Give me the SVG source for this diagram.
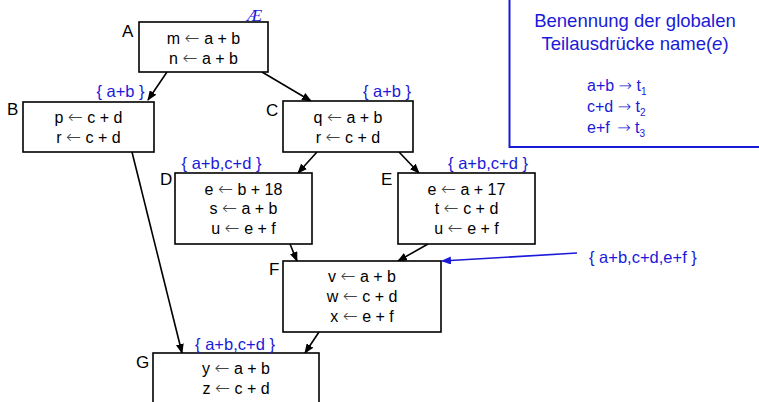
<svg xmlns="http://www.w3.org/2000/svg" width="759" height="402" viewBox="0 0 759 402">
<style>
.box{fill:#fff;stroke:#000;stroke-width:1.6}
.t{font-family:"Liberation Sans",Arial,sans-serif;font-size:16px;fill:#000;text-anchor:middle}
.ar{font-family:"DejaVu Sans",sans-serif;font-size:18px;font-weight:200;fill:#444}
.lbl{font-family:"Liberation Sans",Arial,sans-serif;font-size:17px;fill:#000}
.bl{font-family:"Liberation Sans",Arial,sans-serif;font-size:16.5px;fill:#1a1ad8}
.edge{stroke:#000;stroke-width:1.6;fill:none;marker-end:url(#ah)}
.bedge{stroke:#1a1ad8;stroke-width:1.6;fill:none;marker-end:url(#bh)}
</style>
<defs>
<marker id="ah" markerUnits="userSpaceOnUse" markerWidth="10" markerHeight="8" refX="9" refY="4" orient="auto"><path d="M0,0 L10,4 L0,8 z" fill="#000"/></marker>
<marker id="bh" markerUnits="userSpaceOnUse" markerWidth="10" markerHeight="8" refX="9" refY="4" orient="auto"><path d="M0,0 L10,4 L0,8 z" fill="#1a1ad8"/></marker>
</defs>
<rect width="759" height="402" fill="#fff"/>
<g id="legend">
<rect x="509.5" y="-5" width="260" height="152" fill="none" stroke="#1a1ad8" stroke-width="2"/>
<text x="635" y="27" font-family="Liberation Sans,Arial,sans-serif" font-size="18.5" fill="#1a1ad8" text-anchor="middle">Benennung der globalen</text>
<text x="635" y="50" font-family="Liberation Sans,Arial,sans-serif" font-size="18.5" fill="#1a1ad8" text-anchor="middle">Teilausdrücke name(<tspan font-style="italic">e</tspan>)</text>
<g font-family="Liberation Sans,Arial,sans-serif" font-size="16" fill="#1a1ad8">
<text x="587" y="91">a+b <tspan font-family="DejaVu Sans,sans-serif" font-weight="200">→</tspan> t<tspan font-size="10" dy="4">1</tspan></text>
<text x="587" y="112">c+d <tspan font-family="DejaVu Sans,sans-serif" font-weight="200">→</tspan> t<tspan font-size="10" dy="4">2</tspan></text>
<text x="587" y="133">e+f <tspan dx="3" font-family="DejaVu Sans,sans-serif" font-weight="200">→</tspan> t<tspan font-size="10" dy="4">3</tspan></text>
</g>
</g>
<g id="edges">
<line class="edge" x1="167" y1="72" x2="148" y2="100"/>
<line class="edge" x1="262" y1="72" x2="311" y2="101"/>
<line class="edge" x1="132" y1="152" x2="182" y2="353"/>
<line class="edge" x1="317" y1="152" x2="298" y2="173"/>
<line class="edge" x1="399" y1="152" x2="419" y2="173"/>
<line class="edge" x1="290" y1="244" x2="297" y2="261"/>
<line class="edge" x1="428" y1="244" x2="398" y2="261"/>
<line class="edge" x1="319" y1="332" x2="305" y2="353"/>
<line class="bedge" x1="577" y1="253" x2="442" y2="261"/>
</g>
<g id="A">
<rect class="box" x="139" y="22" width="129" height="50"/>
<text class="lbl" x="122" y="37">A</text>
<text x="247" y="21" font-family="Liberation Serif,serif" font-style="italic" font-size="17" fill="#1a1ad8">Æ</text>
<text class="t" x="203.5" y="44">m <tspan class="ar">←</tspan> a + b</text>
<text class="t" x="203.5" y="64">n <tspan class="ar">←</tspan> a + b</text>
</g>
<g id="B">
<rect class="box" x="23" y="102" width="131" height="50"/>
<text class="lbl" x="7" y="115">B</text>
<text class="bl" x="120.5" y="97" text-anchor="middle">{ a+b }</text>
<text class="t" x="88.5" y="123">p <tspan class="ar">←</tspan> c + d</text>
<text class="t" x="88.5" y="143">r <tspan class="ar">←</tspan> c + d</text>
</g>
<g id="C">
<rect class="box" x="283" y="101" width="130" height="51"/>
<text class="lbl" x="266" y="116">C</text>
<text class="bl" x="387" y="97" text-anchor="middle">{ a+b }</text>
<text class="t" x="348" y="123">q <tspan class="ar">←</tspan> a + b</text>
<text class="t" x="348" y="143">r <tspan class="ar">←</tspan> c + d</text>
</g>
<g id="D">
<rect class="box" x="175" y="173" width="137" height="71"/>
<text class="lbl" x="160" y="185">D</text>
<text class="bl" x="221.5" y="169" text-anchor="middle">{ a+b,c+d }</text>
<text class="t" x="243.5" y="195">e <tspan class="ar">←</tspan> b + 18</text>
<text class="t" x="243.5" y="214">s <tspan class="ar">←</tspan> a + b</text>
<text class="t" x="243.5" y="234">u <tspan class="ar">←</tspan> e + f</text>
</g>
<g id="E">
<rect class="box" x="398" y="173" width="137" height="71"/>
<text class="lbl" x="381" y="185">E</text>
<text class="bl" x="488" y="169" text-anchor="middle">{ a+b,c+d }</text>
<text class="t" x="466.5" y="195">e <tspan class="ar">←</tspan> a + 17</text>
<text class="t" x="466.5" y="214">t <tspan class="ar">←</tspan> c + d</text>
<text class="t" x="466.5" y="234">u <tspan class="ar">←</tspan> e + f</text>
</g>
<g id="F">
<rect class="box" x="283" y="261" width="158" height="71"/>
<text class="lbl" x="269" y="275">F</text>
<text class="bl" x="589" y="263">{ a+b,c+d,e+f }</text>
<text class="t" x="362" y="282">v <tspan class="ar">←</tspan> a + b</text>
<text class="t" x="362" y="302">w <tspan class="ar">←</tspan> c + d</text>
<text class="t" x="362" y="322">x <tspan class="ar">←</tspan> e + f</text>
</g>
<g id="G">
<rect class="box" x="153" y="353" width="166" height="60"/>
<text class="lbl" x="136" y="368">G</text>
<text class="bl" x="235" y="350" text-anchor="middle">{ a+b,c+d }</text>
<text class="t" x="236" y="374">y <tspan class="ar">←</tspan> a + b</text>
<text class="t" x="236" y="394">z <tspan class="ar">←</tspan> c + d</text>
</g>
</svg>
